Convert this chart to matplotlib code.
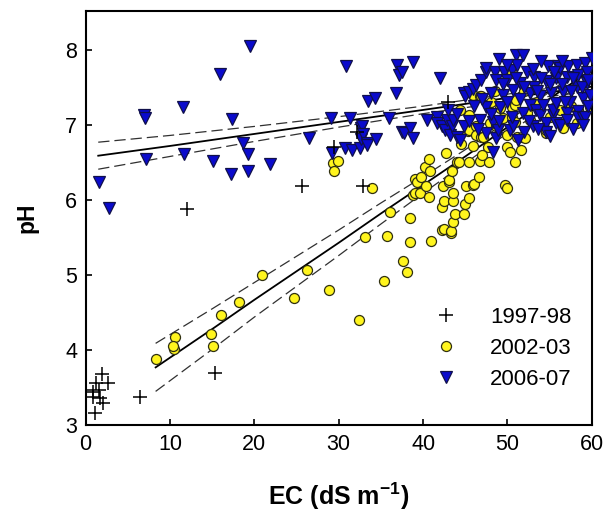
import matplotlib
matplotlib.use("Agg")
import matplotlib.pyplot as plt

plt.rcParams['font.family'] = ['Liberation Sans', 'DejaVu Sans']
plt.rcParams['mathtext.fontset'] = 'custom'
plt.rcParams['mathtext.bf'] = 'Liberation Sans:bold'
plt.rcParams['mathtext.rm'] = 'Liberation Sans'

# ---------------- data ----------------
ec_9798 = [1.9, 2.7, 1.2, 0.1, 0.9, 1.6, 0.9, 1.7, 2.1, 1.1, 6.4, 15.3, 12.0,
           25.6, 32.9, 29.4, 32.2, 42.9]
ph_9798 = [3.68, 3.56, 3.56, 3.47, 3.44, 3.47, 3.38, 3.36, 3.29, 3.16, 3.37, 3.69, 5.88,
           6.19, 6.19, 6.70, 6.91, 7.30]

ec_0203 = [8.3, 10.5, 10.6, 10.4, 14.9, 15.1, 16.0, 18.2, 20.9, 24.7, 26.3, 28.8,
           29.3, 29.9, 29.5, 32.4, 33.1, 33.9, 35.4, 35.7, 36.1, 37.6, 38.1, 38.4,
           38.5, 38.8, 39.1, 39.1, 39.3, 39.6, 39.8, 40.2, 40.4, 40.7, 40.7, 40.8,
           40.9, 42.3, 42.3, 42.4, 42.5, 42.5, 42.7, 43.1, 43.1, 43.3, 43.3, 43.4,
           43.5, 43.6, 43.6, 43.8, 44.0, 44.2, 44.8, 45.0, 45.1, 45.3, 45.5, 45.5,
           45.5, 45.5, 45.9, 45.9, 45.9, 46.0, 46.3, 46.3, 46.6, 46.7, 46.7, 46.9,
           46.9, 47.1, 47.7, 47.7, 47.8, 47.9, 48.1, 48.7, 49.1, 49.5, 49.7, 49.9,
           50.0, 50.0, 50.3, 50.5, 50.5, 50.5, 50.9, 50.9, 50.9, 51.0, 51.1, 51.6,
           51.7, 52.1, 52.3, 52.7, 54.6, 54.6, 56.2, 56.6, 58.2, 58.4, 59.8, 44.4,
           53.5, 55.0, 57.5, 52.0, 48.5, 44.5, 47.0]
ph_0203 = [3.88, 4.02, 4.17, 4.05, 4.21, 4.05, 4.47, 4.64, 5.00, 4.69, 5.07, 4.80,
           6.49, 6.52, 6.39, 4.40, 5.51, 6.16, 4.92, 5.52, 5.84, 5.19, 5.04, 5.76,
           5.44, 6.07, 6.09, 6.28, 6.24, 6.09, 6.31, 6.44, 6.18, 6.04, 6.55, 6.39,
           5.45, 5.60, 5.91, 6.18, 5.98, 5.62, 6.63, 6.24, 6.27, 5.56, 5.59, 6.39,
           5.99, 6.09, 5.71, 5.81, 6.51, 6.51, 5.81, 5.95, 6.18, 6.92, 6.02, 6.50,
           7.13, 6.93, 6.20, 6.72, 7.40, 6.21, 6.98, 6.87, 6.30, 6.52, 7.38, 6.84,
           7.38, 6.84, 6.70, 7.27, 6.50, 7.02, 7.31, 6.98, 7.22, 7.09, 6.20, 6.87,
           6.16, 6.70, 6.64, 7.11, 7.69, 7.24, 6.50, 7.27, 7.04, 7.33, 6.84, 6.66,
           6.84, 6.82, 7.16, 7.07, 6.89, 6.93, 7.20, 6.96, 7.02, 7.20, 7.24, 7.20,
           7.30, 7.10, 7.25, 7.45, 7.45, 6.75, 6.60]

ec_0607 = [1.6, 2.8, 6.9, 7.0, 7.2, 11.5, 11.7, 15.1, 15.9, 17.2, 17.3, 18.6, 19.3,
           19.3, 19.5, 21.8, 26.5, 29.1, 29.2, 30.7, 30.9, 31.3, 31.6, 32.5, 32.7,
           32.7, 32.8, 32.9, 33.3, 33.4, 33.5, 34.3, 34.4, 36.0, 36.8, 36.9, 37.2,
           37.5, 37.5, 37.7, 38.4, 38.8, 38.8, 40.5, 41.6, 41.6, 42.0, 42.2, 42.6,
           42.8, 43.2, 43.4, 43.6, 44.0, 44.4, 44.8, 44.8, 45.0, 45.5, 45.9, 46.3,
           46.7, 46.9, 47.4, 47.5, 47.5, 47.5, 48.1, 48.3, 48.3, 48.5, 48.7, 48.7,
           48.9, 49.0, 49.1, 49.5, 49.6, 49.9, 50.3, 50.5, 50.7, 50.7, 51.0, 51.1,
           51.5, 51.9, 51.9, 52.3, 52.7, 52.7, 53.0, 53.2, 53.2, 53.4, 53.8, 53.8,
           54.2, 54.6, 54.6, 54.6, 54.8, 55.2, 55.4, 55.4, 55.8, 55.8, 55.8, 56.0,
           56.2, 56.2, 56.6, 57.0, 57.0, 57.0, 57.2, 57.4, 58.2, 58.2, 58.4, 58.4,
           58.4, 59.0, 59.0, 59.2, 59.2, 59.4, 59.4, 59.8, 60.0,
           46.0, 47.0, 48.0, 49.5, 50.0, 50.5, 51.0, 51.5, 52.0, 52.5, 53.0, 53.5,
           54.0, 55.0, 55.5, 56.5, 57.5, 57.8, 58.8, 59.6, 56.8, 53.6, 52.0, 51.3,
           55.0, 57.8, 58.9, 59.5, 44.0, 43.0, 45.5, 46.5, 49.0, 50.0, 56.5, 54.0]
ph_0607 = [6.24, 5.90, 7.13, 7.09, 6.54, 7.24, 6.61, 6.52, 7.68, 6.34, 7.08, 6.76, 6.61,
           6.39, 8.05, 6.48, 6.82, 7.09, 6.62, 6.69, 7.79, 7.09, 6.67, 6.69, 6.81,
           6.96, 6.98, 6.88, 6.76, 6.73, 7.32, 7.36, 6.81, 7.09, 7.42, 7.80, 7.67,
           7.70, 6.91, 6.89, 6.96, 6.82, 7.84, 7.07, 7.11, 7.02, 7.62, 6.98, 6.93,
           7.07, 6.87, 6.98, 7.07, 6.84, 6.80, 6.98, 7.42, 7.39, 7.44, 7.48, 7.53,
           7.07, 7.60, 7.71, 7.24, 6.89, 7.76, 7.42, 7.04, 6.64, 7.71, 7.60, 6.82,
           6.93, 7.88, 7.24, 7.40, 7.71, 7.60, 6.93, 7.73, 7.47, 6.98, 7.93, 7.80,
           7.56, 7.93, 7.16, 7.71, 7.42, 7.27, 6.98, 7.64, 7.51, 7.20, 7.38, 7.13,
           7.27, 7.58, 7.02, 6.91, 7.78, 7.42, 7.13, 7.20, 7.62, 7.29, 7.02, 7.78,
           7.00, 7.76, 7.44, 7.64, 7.16, 7.07, 7.78, 7.31, 7.80, 7.51, 7.67, 7.18,
           7.11, 7.36, 7.09, 7.82, 7.11, 7.71, 7.56, 7.40, 7.89,
           7.25, 7.35, 7.15, 7.55, 7.30, 7.10, 7.62, 7.35, 7.50, 7.05, 7.75, 7.45,
           7.62, 7.55, 7.70, 7.55, 7.45, 7.62, 7.50, 7.25, 7.30, 6.95, 6.90, 6.80,
           6.85, 6.95, 7.00, 7.60, 7.15, 7.20, 7.05, 6.95, 7.05, 7.80, 7.85, 7.85]

# regression line and 95% confidence bands
fit_0607_ec = [1.5, 10, 20, 30, 40, 50, 60]
fit_0607_mid = [6.59, 6.72, 6.88, 7.04, 7.20, 7.36, 7.51]
fit_0607_up = [6.77, 6.86, 6.98, 7.11, 7.25, 7.41, 7.57]
fit_0607_lo = [6.41, 6.58, 6.78, 6.97, 7.15, 7.31, 7.45]

fit_0203_ec = [8.3, 15, 20, 25, 30, 35, 40, 45, 50, 55, 60]
fit_0203_mid = [3.77, 4.28, 4.67, 5.05, 5.43, 5.82, 6.20, 6.58, 6.97, 7.35, 7.74]
fit_0203_up = [4.09, 4.55, 4.90, 5.25, 5.60, 5.96, 6.31, 6.67, 7.05, 7.44, 7.85]
fit_0203_lo = [3.45, 4.01, 4.44, 4.85, 5.26, 5.68, 6.09, 6.49, 6.89, 7.26, 7.63]

labels = ['1997-98', '2002-03', '2006-07']
x_ticks = [0, 10, 20, 30, 40, 50, 60]
y_ticks = [3, 4, 5, 6, 7, 8]

# ---------------- plot ----------------
fig = plt.figure(figsize=(6.07, 5.16), dpi=100)
ax = fig.add_axes([0.141, 0.176, 0.834, 0.803])

dash = (0, (9, 4))
for xs, mid, up, lo in [(fit_0607_ec, fit_0607_mid, fit_0607_up, fit_0607_lo),
                        (fit_0203_ec, fit_0203_mid, fit_0203_up, fit_0203_lo)]:
    ax.plot(xs, mid, color='black', lw=1.3, zorder=1)
    ax.plot(xs, up, color='#303030', lw=0.9, linestyle=dash, zorder=1)
    ax.plot(xs, lo, color='#303030', lw=0.9, linestyle=dash, zorder=1)

ax.plot(ec_0203, ph_0203, linestyle='none', marker='o', markersize=7.2,
        markerfacecolor='#FFF51E', markeredgecolor='#303010', markeredgewidth=0.9,
        zorder=2, label=labels[1])
ax.plot(ec_0607, ph_0607, linestyle='none', marker='v', markersize=8.2,
        markerfacecolor='#0A0ACC', markeredgecolor='#10104A', markeredgewidth=0.9,
        zorder=3, label=labels[2])
ax.plot(ec_9798, ph_9798, linestyle='none', marker='+', markersize=10,
        color='black', markeredgewidth=1.1, zorder=4, label=labels[0])

ax.set_xlim(0, 60)
ax.set_ylim(3, 8.52)
ax.set_xticks(x_ticks)
ax.set_yticks(y_ticks)
ax.tick_params(direction='in', length=4, width=1.2, labelsize=15.5,
               top=False, right=False, pad=6)
for s in ax.spines.values():
    s.set_linewidth(1.5)

ax.set_xlabel('EC (dS m$^{\\mathbf{-1}}$)', fontsize=18, fontweight='bold', labelpad=19)
ax.set_ylabel('pH', fontsize=16.5, fontweight='bold', labelpad=19)

h, l = ax.get_legend_handles_labels()
order = [2, 0, 1]
ax.legend([h[i] for i in order], [l[i] for i in order], loc='lower right',
          bbox_to_anchor=(0.96, 0.085), frameon=False, fontsize=16,
          handletextpad=1.0, labelspacing=0.45, borderpad=0, borderaxespad=0)

fig.savefig('out.png', dpi=100)
